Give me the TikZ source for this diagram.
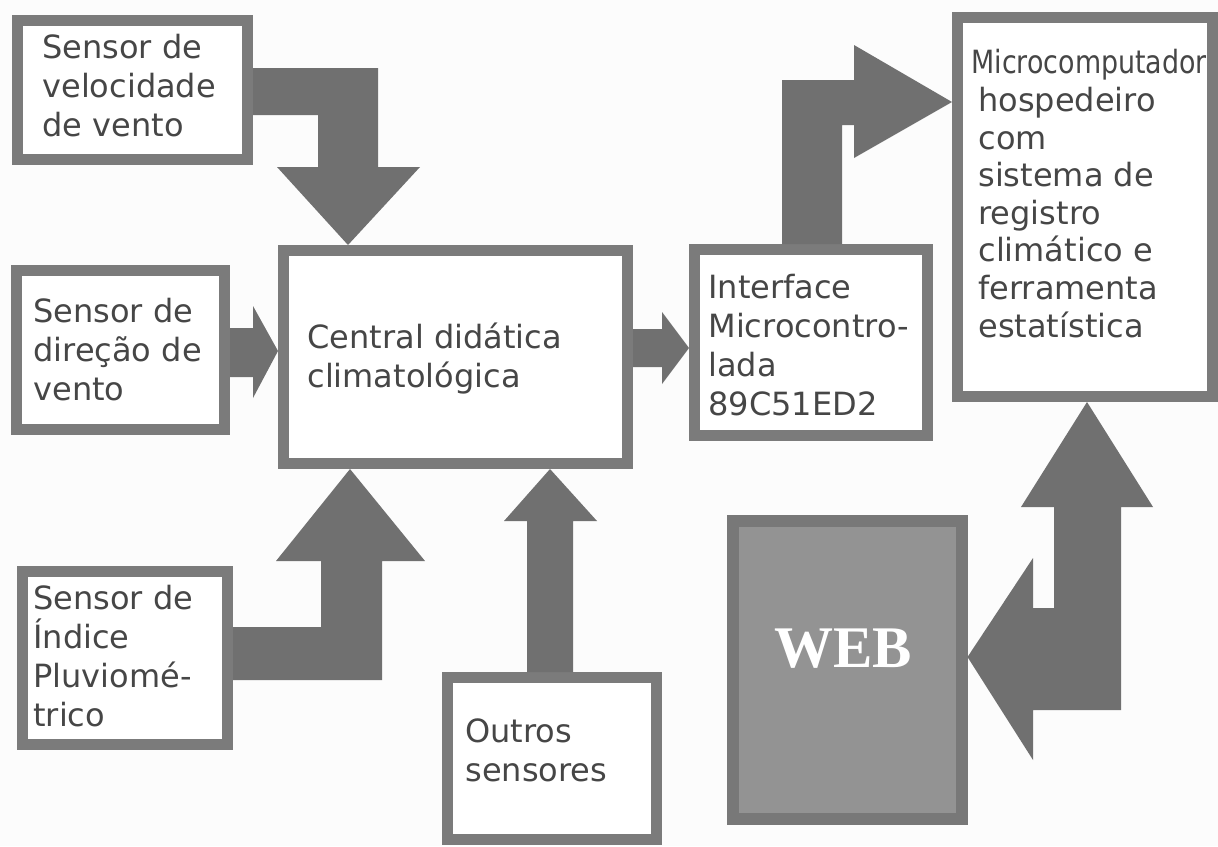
\documentclass[tikz,border=0pt]{standalone}
\usepackage{fontspec}
\usepackage{graphicx}
\setmainfont{DejaVu Sans}
\newfontfamily\webfont{Liberation Serif}
\definecolor{boxgray}{HTML}{7B7B7B}
\definecolor{arrowgray}{HTML}{707070}
\definecolor{textgray}{HTML}{464646}
\definecolor{webfill}{HTML}{939393}
\definecolor{webline}{HTML}{787878}
\definecolor{bgcol}{HTML}{FCFCFC}
\tikzset{
  box/.style={draw=boxgray, line width=5.5pt, fill=white, inner sep=0pt, rectangle},
  webbox/.style={draw=webline, line width=6pt, fill=webfill, inner sep=0pt, rectangle},
  txt/.style={anchor=north west, inner sep=0pt, align=left, text=textgray,
    font=\fontsize{16pt}{19.5pt}\selectfont},
  txtmic/.style={anchor=north west, inner sep=0pt, align=left, text=textgray,
    font=\fontsize{16pt}{18.8pt}\selectfont},
  webtxt/.style={anchor=base, inner sep=0pt, text=white,
    font=\webfont\bfseries\fontsize{29.5pt}{30pt}\selectfont},
  blockarrow/.style={fill=arrowgray, draw=none}
}
\begin{document}
\begin{tikzpicture}[x=0.5pt,y=-0.5pt]
\fill[bgcol] (0,0) rectangle (1218,846);
\useasboundingbox (0,0) rectangle (1218,846);

% boxes
\node[box, minimum width=115pt, minimum height=69.5pt] (vel) at (132.5,90) {};
\node[box, minimum width=104pt, minimum height=79.5pt] (dir) at (120.5,350) {};
\node[box, minimum width=102.5pt, minimum height=86.5pt] (plu) at (125,658) {};
\node[box, minimum width=172pt, minimum height=106.5pt] (cen) at (455.5,357) {};
\node[box, minimum width=116.5pt, minimum height=93pt] (int) at (811,342.5) {};
\node[box, minimum width=127.5pt, minimum height=189.5pt] (mic) at (1085,207) {};
\node[box, minimum width=104.5pt, minimum height=81pt] (out) at (552,758.5) {};
\node[webbox, minimum width=114.5pt, minimum height=149pt] (web) at (847,669.5) {};

% texts
\node[txt] (tvel) at (42,33.7) {Sensor de\\velocidade\\de vento};
\node[txt] (tdir) at (33,297.7) {Sensor de\\direção de\\vento};
\node[txt] (tplu) at (33,584.7) {Sensor de\\Índice\\Pluviomé-\\trico};
\node[txt] (tcen) at (307,322.7) {Central didática\\climatológica};
\node[txt] (tint) at (708,273.7) {Interface\\Microcontro-\\lada\\89C51ED2};
\node[txt] (tmic1) at (971,48.7) {\scalebox{0.84}[1]{Microcomputador}};
\node[txtmic] (tmic2) at (978,86.7) {hospedeiro\\com\\sistema de\\registro\\climático e\\ferramenta\\estatística};
\node[txt] (tout) at (465,718.7) {Outros\\sensores};
\node[webtxt] (tweb) at (843,667) {WEB};

% block arrows
% velocidade -> central
\fill[blockarrow] (vel.east |- 0,68) -- (378,68) -- (378,167) -- (420,167)
  -- (348,0 |- cen.north) -- (277,167) -- (318,167) -- (318,115)
  -- (vel.east |- 0,115) -- cycle;
% direcao -> central
\fill[blockarrow] (dir.east |- 0,328) -- (253,328) -- (253,306)
  -- (cen.west |- 0,351) -- (253,398) -- (253,377)
  -- (dir.east |- 0,377) -- cycle;
% pluviometrico -> central
\fill[blockarrow] (plu.east |- 0,627) -- (321,627) -- (321,561) -- (276,561)
  -- (350,0 |- cen.south) -- (425,561) -- (382,561) -- (382,680)
  -- (plu.east |- 0,680) -- cycle;
% outros -> central
\fill[blockarrow] (527,0 |- out.north) -- (527,521) -- (504,521)
  -- (550,0 |- cen.south) -- (597,521) -- (573,521)
  -- (573,0 |- out.north) -- cycle;
% central -> interface
\fill[blockarrow] (cen.east |- 0,329) -- (662,329) -- (662,312)
  -- (int.west |- 0,348) -- (662,384) -- (662,367)
  -- (cen.east |- 0,367) -- cycle;
% interface -> microcomputador
\fill[blockarrow] (782,0 |- int.north) -- (782,80) -- (854,80) -- (854,45)
  -- (mic.west |- 0,102) -- (854,158) -- (854,125) -- (842,125)
  -- (842,0 |- int.north) -- cycle;
% web <-> microcomputador
\fill[blockarrow] (1087,0 |- mic.south) -- (1153,507) -- (1121,507) -- (1121,710)
  -- (1033,710) -- (1033,760) -- (web.east |- 0,657) -- (1033,558)
  -- (1033,608) -- (1054,608) -- (1054,507) -- (1021,507) -- cycle;
\end{tikzpicture}
\end{document}
